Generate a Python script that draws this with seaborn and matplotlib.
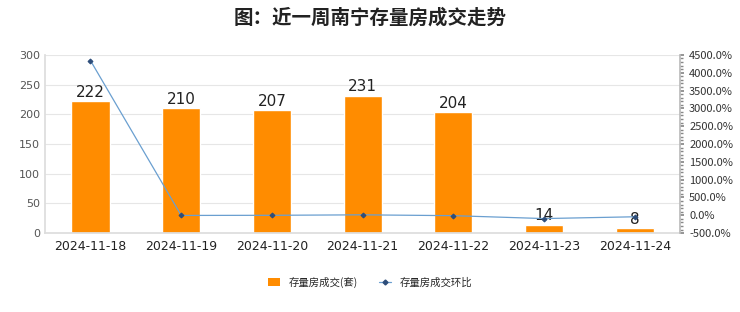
import numpy as np
import pandas as pd
import matplotlib
matplotlib.use("Agg")
import matplotlib.pyplot as plt
from matplotlib.ticker import MultipleLocator, FuncFormatter
from matplotlib.lines import Line2D
from matplotlib.patches import Patch
import seaborn as sns

dates = ["2024-11-18", "2024-11-19", "2024-11-20", "2024-11-21", "2024-11-22", "2024-11-23", "2024-11-24"]
volume = [222, 210, 207, 231, 204, 14, 8]
ratio = [4340.0, -5.4, -1.4, 11.6, -11.7, -93.1, -42.9]

sns.set_theme(style="white")
plt.rcParams['font.family'] = ['Noto Sans CJK SC', 'DejaVu Sans']

df = pd.DataFrame({"date": dates, "volume": volume, "ratio": ratio, "pos": np.arange(len(dates))})

fig = plt.figure(figsize=(7.4, 3.12), dpi=100)
ax = fig.add_axes([0.061, 0.253, 0.858, 0.571])

sns.barplot(data=df, x="date", y="volume", color="#FF8C00", saturation=1, width=0.42, ax=ax, zorder=2)
ax.set_ylim(0, 300)
ax.yaxis.set_major_locator(MultipleLocator(50))
ax.grid(axis="y", color="#e6e6e6", linewidth=0.8, zorder=0)
ax.set_axisbelow(True)
ax.set_xlabel("")
ax.set_ylabel("")
for s in ["top", "right"]:
    ax.spines[s].set_visible(False)
ax.spines["left"].set_color("#dddddd")
ax.spines["bottom"].set_color("#dddddd")
ax.tick_params(axis="y", labelsize=8, colors="#555555", length=0)
ax.tick_params(axis="x", labelsize=9, colors="#222222", length=0, pad=5)
for lab in ax.get_xticklabels() + ax.get_yticklabels():
    lab.set_fontfamily("DejaVu Sans")
for c in ax.containers:
    ax.bar_label(c, fontsize=11, color="#222222", padding=1, fontfamily="DejaVu Sans")

ax2 = ax.twinx()
sns.lineplot(data=df, x="pos", y="ratio", ax=ax2, color="#6a9fd0", linewidth=0.9,
             marker="D", markersize=2.5, markerfacecolor="#2d4d7a", markeredgecolor="#2d4d7a", zorder=3)
ax2.set_ylim(-500, 4500)
ax2.set_xlim(-0.5, len(dates) - 0.5)
ax2.yaxis.set_major_locator(MultipleLocator(500))
ax2.yaxis.set_minor_locator(MultipleLocator(100))
ax2.yaxis.set_major_formatter(FuncFormatter(lambda v, p: f"{v:.1f}%"))
ax2.set_xlabel("")
ax2.set_ylabel("")
for s in ["top", "left", "bottom"]:
    ax2.spines[s].set_visible(False)
ax2.spines["right"].set_color("#bbbbbb")
ax2.tick_params(axis="y", which="major", labelsize=8, colors="#333333", length=3, color="#888888")
ax2.tick_params(axis="y", which="minor", length=2, color="#888888")

fig.suptitle("图：近一周南宁存量房成交走势", x=0.5, y=0.975, fontsize=14, fontweight="bold", color="#222222")

handles = [Patch(facecolor="#FF8C00", edgecolor="none"),
           Line2D([0], [0], color="#6a9fd0", linewidth=0.9, marker="D", markersize=2.5,
                  markerfacecolor="#2d4d7a", markeredgecolor="#2d4d7a")]
fig.legend(handles, ["存量房成交(套)", "存量房成交环比"], loc="center", bbox_to_anchor=(0.5, 0.095),
           ncol=2, frameon=False, fontsize=7.5, handlelength=1.2, handleheight=0.8, columnspacing=2)

fig.savefig("out.png", dpi=100)
